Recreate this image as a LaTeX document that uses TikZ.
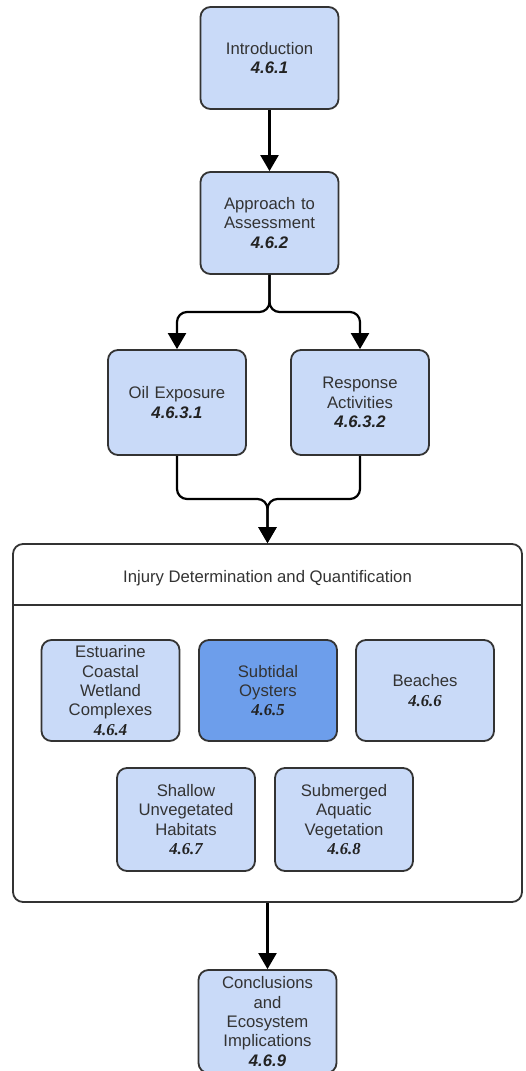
\documentclass[tikz,border=0pt]{standalone}
\usepackage{fontspec}
\setmainfont{Liberation Sans}
\newfontfamily\numserif{Liberation Serif}
\usetikzlibrary{arrows.meta,calc}
\definecolor{boxfill}{HTML}{C9DAF8}
\definecolor{boxdark}{HTML}{6D9EEB}
\definecolor{edgec}{HTML}{333333}
\definecolor{txtc}{HTML}{333333}
\definecolor{numc}{HTML}{222222}
\newcommand\nb[1]{{\bfseries\itshape\color{numc}#1}}
\newcommand\ns[1]{{\numserif\bfseries\itshape\color{numc}#1}}
\tikzset{
  sbox/.style={draw=edgec, line width=1.8pt, fill=boxfill, rounded corners=10pt,
    minimum width=138pt, minimum height=102pt, text width=134pt, align=center,
    inner sep=0pt, text=txtc, font=\fontsize{16.7pt}{19.4pt}\selectfont},
  container/.style={draw=edgec, line width=1.8pt, rounded corners=10pt,
    minimum width=509pt, minimum height=358pt, inner sep=0pt},
  headtext/.style={text=txtc, font=\fontsize{16.7pt}{19.4pt}\selectfont},
  arr/.style={draw=black, line width=2.2pt, -{Triangle[width=18pt,length=16pt]}},
}
\begin{document}
\begin{tikzpicture}[x=1pt,y=-1pt]
\useasboundingbox (0,0) rectangle (526,1071);
\node[sbox] (intro) at (269.5,58) {Introduction\\\nb{4.6.1}};
\node[sbox] (appr) at (269.5,223) {Approach to\\Assessment\\\nb{4.6.2}};
\node[sbox, minimum height=105pt] (oil) at (177,402.5) {Oil Exposure\\\nb{4.6.3.1}};
\node[sbox, minimum height=105pt] (resp) at (360,402.5) {Response\\Activities\\\nb{4.6.3.2}};
\node[container] (cont) at (267.5,723) {};
\node[headtext] (head) at (267.5,578) {Injury Determination and Quantification};
\coordinate (hl) at (0,605);
\draw[draw=edgec, line width=1.8pt] (cont.west |- hl) -- (cont.east |- hl);
\node[sbox, minimum height=101pt] (est) at (110.5,690.5) {Estuarine\\Coastal\\Wetland\\Complexes\\\ns{4.6.4}};
\node[sbox, minimum height=101pt, fill=boxdark] (sub) at (268,690.5) {Subtidal\\Oysters\\\ns{4.6.5}};
\node[sbox, minimum height=101pt] (bea) at (425,690.5) {Beaches\\\ns{4.6.6}};
\node[sbox, minimum height=103pt] (sha) at (186,819.5) {Shallow\\Unvegetated\\Habitats\\\ns{4.6.7}};
\node[sbox, minimum height=103pt] (subm) at (344,819.5) {Submerged\\Aquatic\\Vegetation\\\ns{4.6.8}};
\node[sbox, minimum height=103pt] (conc) at (267.5,1021.5) {Conclusions\\and\\Ecosystem\\Implications\\\nb{4.6.9}};
\draw[arr] (intro) -- (appr);
\coordinate (split) at (269.5,312);
\draw[arr, rounded corners=10pt] (appr.south) -- (split) -| (oil.north);
\draw[arr, rounded corners=10pt] (appr.south) -- (split) -| (resp.north);
\coordinate (merge) at (267.5,499);
\draw[arr, rounded corners=10pt] (oil.south) |- (merge) -- (cont.north);
\draw[arr, rounded corners=10pt] (resp.south) |- (merge) -- (cont.north);
\draw[arr] (cont.south) -- (conc.north);
\end{tikzpicture}
\end{document}
